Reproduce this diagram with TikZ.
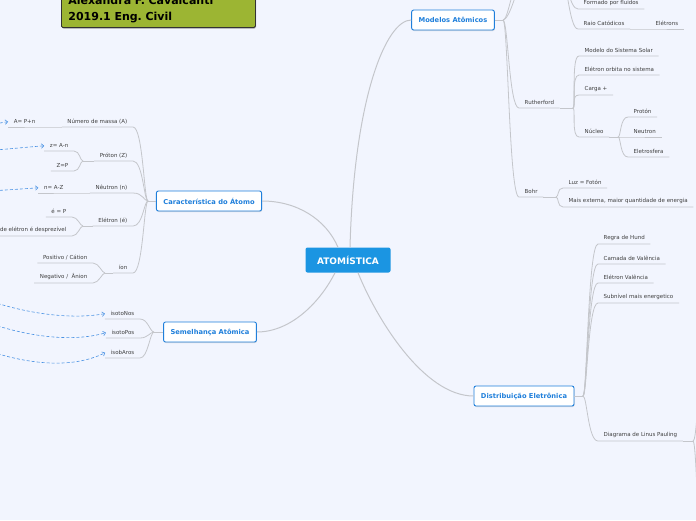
\documentclass[tikz,border=0pt]{standalone}
\usepackage{fontspec}
\setmainfont{DejaVu Sans}
\frenchspacing
\usepackage{tikz}
\usetikzlibrary{positioning, arrows.meta, calc, shadows}
\usepackage{xcolor}
\definecolor{mapFundo}{HTML}{F2F5FE}
\definecolor{mapLinha}{HTML}{C4C6CB}
\definecolor{mapAzul}{HTML}{1F7FDB}
\definecolor{mapCentro}{HTML}{1B95E2}
\definecolor{mapTexto}{HTML}{3F3F3F}
\definecolor{mapOliva}{HTML}{9CB533}
\definecolor{mapSeta}{HTML}{4A92E4}

\begin{document}
\begin{tikzpicture}[x=1pt, y=-1pt,
    tema/.style={draw=mapAzul, line width=0.9pt, fill=white, rounded corners=2pt,
      text=mapAzul, font=\fontsize{6.7}{8}\selectfont\bfseries, inner xsep=7pt,
      minimum height=20pt, drop shadow={shadow xshift=0.5pt, shadow yshift=-1pt, opacity=0.25}},
    folha/.style={font=\fontsize{5.5}{6.5}\selectfont, text=mapTexto, inner xsep=5.5pt, inner ysep=3pt},
    ramo/.style={draw=mapLinha, line width=0.8pt},
    rel/.style={draw=mapSeta, line width=0.6pt, dash pattern=on 3pt off 2pt,
      -{Straight Barb[length=2.5pt, width=4.5pt]}}]
  \useasboundingbox (0,0) rectangle (696,520);
  \clip (0,0) rectangle (696,520);
  \fill[mapFundo] (0,0) rectangle (696,520);

  % Titulo (cortado no topo)
  \node[anchor=south west, draw=black!80, line width=0.8pt, fill=mapOliva, rounded corners=1.5pt,
    text width=180pt, inner xsep=7pt, inner ysep=5pt, align=left,
    font=\fontsize{11}{15.5}\selectfont\bfseries,
    drop shadow={shadow xshift=0.8pt, shadow yshift=-1pt, opacity=0.5}] (titulo) at (61,28)
    {Alexandra F. Cavalcanti\\2019.1 Eng. Civil};

  % Centro e temas principais
  \node[fill=mapCentro, rounded corners=2pt, text=white, minimum width=85pt, minimum height=25pt,
    font=\fontsize{9}{10}\selectfont\bfseries] (atom) at (348,260) {ATOMÍSTICA};
  \node[tema] (modelos) at (453,20) {Modelos Atômicos};
  \node[tema] (caract) at (209,201) {Característica do Átomo};
  \node[tema] (semelh) at (210,332) {Semelhança Atômica};
  \node[tema] (distrib) at (524,396) {Distribuição Eletrônica};
  \draw[ramo, line width=1pt] ([xshift=2pt]atom.north) .. controls +(4,-150) and +(-25,0) .. (modelos.west);
  \draw[ramo, line width=1pt] ([xshift=-10pt]atom.north) .. controls +(-12,-28) and +(35,0) .. (caract.east);
  \draw[ramo, line width=1pt] ([xshift=-13pt]atom.south) .. controls +(-14,28) and +(35,0) .. (semelh.east);
  \draw[ramo, line width=1pt] ([xshift=10pt]atom.south) .. controls +(18,45) and +(-50,0) .. (distrib.west);

  % Modelos Atomicos
  \coordinate (jModelos) at (503,20);
  \coordinate (jThomson) at (561,-24);
  \coordinate (topoA) at (514,-10);
  \coordinate (topoB) at (522,-30);
  \draw[ramo] (modelos.east) -- (jModelos);
  \draw[ramo] (jModelos) .. controls +(4,0) and +(-4,10) .. (topoA);
  \draw[ramo] (jModelos) .. controls +(6,0) and +(-4,20) .. (topoB);
  \node[folha, anchor=south west] (fluidos) at (578,9) {Formado por fluidos};
  \node[folha, anchor=south west] (raio) at (578,29) {Raio Catódicos};
  \node[folha, anchor=south west] (eletrons) at (650,29) {Elétrons};
  \foreach \n in {fluidos, raio}
    \draw[ramo] (jThomson) .. controls +(6,0) and +(-9,0) .. (\n.south west) -- (\n.south east);
  \draw[ramo] (raio.south east) -- (eletrons.south west) -- (eletrons.south east);

  \coordinate (jRuth) at (573,108);
  \coordinate (jNucleo) at (618,137);
  \coordinate (jBohr) at (556,197);
  \node[folha, anchor=south west] (ruth) at (519,108) {Rutherford};
  \node[folha, anchor=south west] (bohr) at (519,197) {Bohr};
  \foreach \n in {ruth, bohr}
    \draw[ramo] (jModelos) .. controls +(5,0) and +(-10,0) .. (\n.south west) -- (\n.south east);
  \draw[ramo] (ruth.south east) -- (jRuth);
  \draw[ramo] (bohr.south east) -- (jBohr);
  \foreach \n/\texto/\y in {solar/Modelo do Sistema Solar/56, orbita/Elétron orbita no sistema/75,
      carga/Carga +/95, nucleo/Núcleo/137} {
    \node[folha, anchor=south west] (\n) at (579,\y) {\texto};
    \draw[ramo] (jRuth) .. controls +(3,0) and +(-8,0) .. (\n.south west) -- (\n.south east);
  }
  \draw[ramo] (nucleo.south east) -- (jNucleo);
  \foreach \n/\texto/\y in {protonN/Protón/117, neutronN2/Neutron/137, eletrosf/Eletrosfera/157} {
    \node[folha, anchor=south west] (\n) at (628,\y) {\texto};
    \draw[ramo] (jNucleo) .. controls +(3,0) and +(-8,0) .. (\n.south west) -- (\n.south east);
  }
  \foreach \n/\texto/\y in {luz/Luz = Fotón/188, externa/{Mais externa, maior quantidade de energia}/207} {
    \node[folha, anchor=south west] (\n) at (563,\y) {\texto};
    \draw[ramo] (jBohr) .. controls +(3,0) and +(-6,0) .. (\n.south west) -- (\n.south east);
  }

  % Distribuicao Eletronica
  \coordinate (jDist) at (583,396);
  \coordinate (jPauling) at (693,441);
  \coordinate (foraP1) at (700,380);
  \coordinate (foraP2) at (700,540);
  \draw[ramo] (distrib.east) -- (jDist);
  \foreach \n/\texto/\y in {hund/Regra de Hund/244, camada/Camada de Valência/264,
      valencia/Elétron Valência/283, subnivel/Subnível mais energetico/303,
      pauling/Diagrama de Linus Pauling/441} {
    \node[folha, anchor=south west] (\n) at (598,\y) {\texto};
    \draw[ramo] (jDist) .. controls +(4,0) and +(-10,0) .. (\n.south west) -- (\n.south east);
  }
  \draw[ramo] (pauling.south east) -- (jPauling);
  \draw[ramo] (jPauling) .. controls +(3,0) and +(-3,30) .. (foraP1);
  \draw[ramo] (jPauling) .. controls +(3,0) and +(-3,-30) .. (foraP2);

  % Caracteristica do Atomo
  \coordinate (jCaract) at (148,201);
  \coordinate (jProton) at (83,161);
  \coordinate (jEletron) at (83,226);
  \coordinate (jIon) at (105,273);
  \draw[ramo] (caract.west) -- (jCaract);
  \foreach \n/\texto/\y in {massa/Número de massa (A)/127, protonZ/Próton (Z)/161,
      neutronN/Nêutron (n)/193, eletronE/Elétron (é)/226, ion/íon/273} {
    \node[folha, anchor=south east] (\n) at (133,\y) {\texto};
    \draw[ramo] (jCaract) .. controls +(-4,0) and +(10,0) .. (\n.south east) -- (\n.south west);
  }
  \node[folha, anchor=south east] (apn) at (41,127) {A= P+n};
  \node[folha, anchor=south east] (nAZ) at (69,193) {n= A-Z};
  \draw[ramo] (massa.south west) -- (apn.south east) -- (apn.south west);
  \draw[ramo] (neutronN.south west) -- (nAZ.south east) -- (nAZ.south west);
  \draw[ramo] (protonZ.south west) -- (jProton);
  \draw[ramo] (eletronE.south west) -- (jEletron);
  \draw[ramo] (ion.south west) -- (jIon);
  \foreach \n/\texto/\x/\y/\j in {zAn/z= A-n/74/151/jProton, zP/Z=P/74/171/jProton,
      eP/é = P/72/217/jEletron, desp/de elétron é desprezível/72/236/jEletron,
      cation/{Positivo / Cátion}/93/263/jIon, anion/{Negativo /~ Ânion}/93/283/jIon} {
    \node[folha, anchor=south east] (\n) at (\x,\y) {\texto};
    \draw[ramo] (\j) .. controls +(-3,0) and +(6,0) .. (\n.south east) -- (\n.south west);
  }

  % Semelhanca Atomica
  \coordinate (jSem) at (154,332);
  \draw[ramo] (semelh.west) -- (jSem);
  \foreach \n/\texto/\y in {isotonos/isotoNos/319, isotopos/isotoPos/338, isobaros/isobAros/358} {
    \node[folha, anchor=south east] (\n) at (140,\y) {\texto};
    \draw[ramo] (jSem) .. controls +(-4,0) and +(8,0) .. (\n.south east) -- (\n.south west);
  }

  % Relacoes tracejadas vindas de fora
  \coordinate (foraA) at (-30,127);
  \coordinate (foraB) at (-40,152);
  \coordinate (foraC) at (-40,192);
  \coordinate (foraD) at (-40,290);
  \coordinate (foraE) at (-40,312);
  \coordinate (foraF) at (-40,340);
  \draw[rel] (foraA) .. controls +(15,0) and +(-10,1) .. (apn.west);
  \draw[rel] (foraB) .. controls +(20,0) and +(-15,1) .. (zAn.west);
  \draw[rel] (foraC) .. controls +(20,0) and +(-15,1) .. (nAZ.west);
  \draw[rel] (foraD) .. controls +(60,25) and +(-34,6) .. (isotonos.west);
  \draw[rel] (foraE) .. controls +(60,26) and +(-34,10) .. (isotopos.west);
  \draw[rel] (foraF) .. controls +(60,26) and +(-34,17) .. (isobaros.west);
\end{tikzpicture}
\end{document}
